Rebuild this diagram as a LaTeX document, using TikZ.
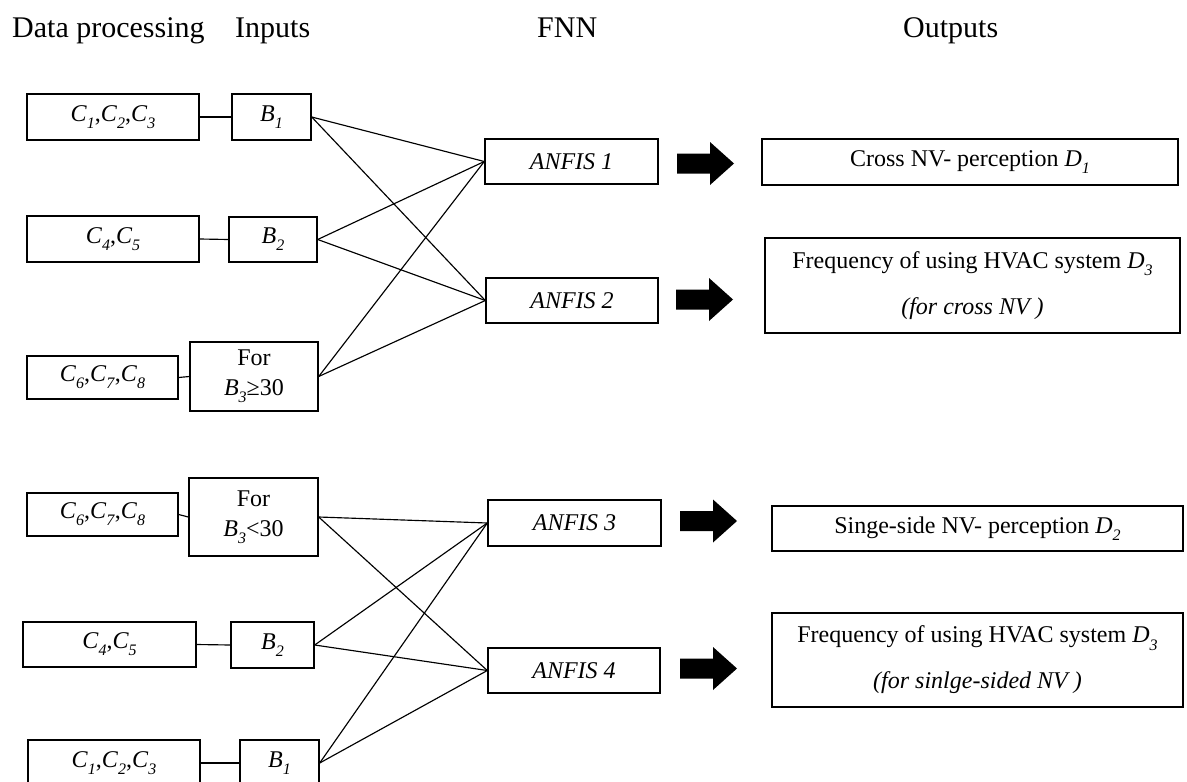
\documentclass[tikz,border=0pt]{standalone}
\usepackage{fontspec}
\setmainfont{Liberation Serif}
% italic letter with a dropped italic index
\newcommand\vsub[2]{\textit{#1}\raisebox{-0.3em}{\fontsize{16}{16}\selectfont\textit{#2}}}
\begin{document}
\begin{tikzpicture}[x=1pt,y=-1pt,
  bx/.style={draw, line width=1.4pt, inner sep=2pt, align=center,
             font=\fontsize{24}{30}\selectfont},
  twoline/.style={bx, font=\fontsize{24}{46}\selectfont},
  hd/.style={anchor=base west, inner sep=0pt, font=\fontsize{30}{36}\selectfont},
  link/.style={line width=1.15pt},
  fatarrow/.pic={\fill (0,-10) -- (33,-10) -- (33,-21.5) -- (57,0)
                 -- (33,21.5) -- (33,10) -- (0,10) -- cycle;}
]
\fill[white] (0,0) rectangle (1187,782);
\useasboundingbox (0,0) rectangle (1187,782);

% column headings
\node[hd] (h1) at (12,37) {Data processing};
\node[hd] (h2) at (235,37) {Inputs};
\node[hd] (h3) at (537,37) {FNN};
\node[hd] (h4) at (903,37) {Outputs};

% cross ventilation: data processing and inputs
\node[bx, minimum width=172pt, minimum height=46pt] (c123a) at (113,117)
  {\vsub{C}{1},\vsub{C}{2},\vsub{C}{3}};
\node[bx, minimum width=79pt, minimum height=46pt] (b1a) at (271.5,117) {\vsub{B}{1}};
\node[bx, minimum width=172pt, minimum height=46pt] (c45a) at (113,239)
  {\vsub{C}{4},\vsub{C}{5}};
\node[bx, minimum width=88pt, minimum height=45pt] (b2a) at (273,239.5) {\vsub{B}{2}};
\node[bx, minimum width=151pt, minimum height=43pt] (c678a) at (102.5,377.5)
  {\vsub{C}{6},\vsub{C}{7},\vsub{C}{8}};
\node[bx, minimum width=128pt, minimum height=69pt] (b3a) at (254,376.5)
  {For\\\vsub{B}{3}≥30};

% single-sided ventilation: data processing and inputs
\node[bx, minimum width=151pt, minimum height=43pt] (c678b) at (102.5,514.5)
  {\vsub{C}{6},\vsub{C}{7},\vsub{C}{8}};
\node[bx, minimum width=129pt, minimum height=78pt] (b3b) at (253.5,517)
  {For\\\vsub{B}{3}<30};
\node[bx, minimum width=173pt, minimum height=45pt] (c45b) at (109.5,644.5)
  {\vsub{C}{4},\vsub{C}{5}};
\node[bx, minimum width=83pt, minimum height=46pt] (b2b) at (272.5,645) {\vsub{B}{2}};
\node[bx, minimum width=172pt, minimum height=46pt] (c123b) at (114,763)
  {\vsub{C}{1},\vsub{C}{2},\vsub{C}{3}};
\node[bx, minimum width=79pt, minimum height=46pt] (b1b) at (279.5,763) {\vsub{B}{1}};

% fuzzy neural networks
\node[bx, minimum width=173pt, minimum height=45pt] (a1) at (571.5,161.5) {\textit{ANFIS 1}};
\node[bx, minimum width=172pt, minimum height=45pt] (a2) at (572,300.5) {\textit{ANFIS 2}};
\node[bx, minimum width=173pt, minimum height=46pt] (a3) at (574.5,523) {\textit{ANFIS 3}};
\node[bx, minimum width=172pt, minimum height=45pt] (a4) at (574,670.5) {\textit{ANFIS 4}};

% outputs
\node[bx, minimum width=416pt, minimum height=46pt] (d1) at (970,162)
  {Cross NV- perception \vsub{D}{1}};
\node[twoline, minimum width=415pt, minimum height=95pt] (d3a) at (972.5,285.5)
  {Frequency of using HVAC system \vsub{D}{3}\\\textit{(for cross NV )}};
\node[bx, minimum width=411pt, minimum height=45pt] (d2) at (977.5,528.5)
  {Singe-side NV- perception \vsub{D}{2}};
\node[twoline, minimum width=411pt, minimum height=94pt] (d3b) at (977.5,660)
  {Frequency of using HVAC system \vsub{D}{3}\\\textit{(for sinlge-sided NV )}};

% data processing to inputs
\foreach \c/\b in {c123a/b1a, c45a/b2a, c678a/b3a, c678b/b3b, c45b/b2b, c123b/b1b}
  \draw[link] (\c.east) -- (\b.west);

% inputs to networks
\foreach \b in {b1a, b2a, b3a} {
  \draw[link] (\b.east) -- (a1.west);
  \draw[link] (\b.east) -- (a2.west);
}
\foreach \b in {b3b, b2b, b1b} {
  \draw[link] (\b.east) -- (a3.west);
  \draw[link] (\b.east) -- (a4.west);
}

% block arrows towards the outputs
\path (677,163.5) pic {fatarrow};
\path (676,299.5) pic {fatarrow};
\path (680,521) pic {fatarrow};
\path (680,668.5) pic {fatarrow};
\end{tikzpicture}
\end{document}
